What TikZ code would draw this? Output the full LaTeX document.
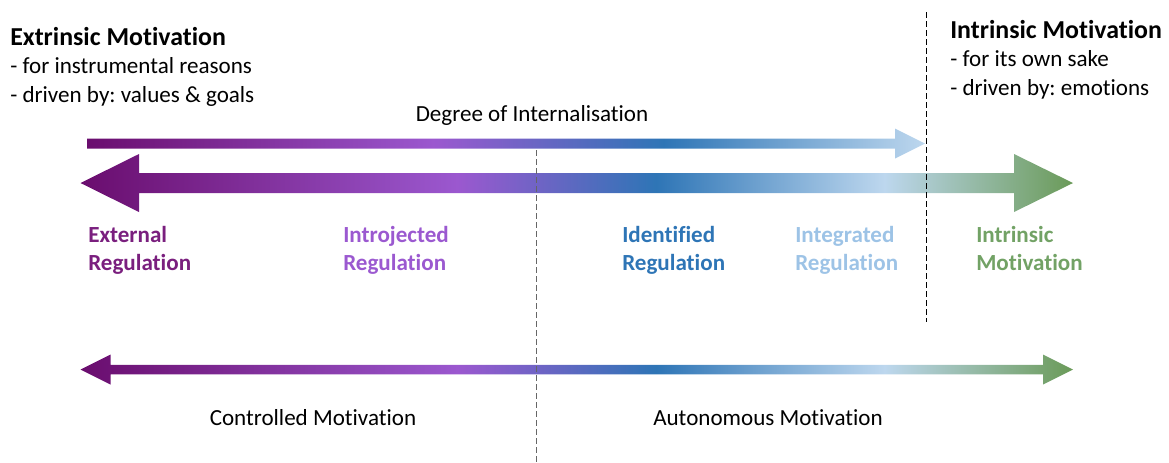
\documentclass[tikz,border=0pt]{standalone}
\usepackage{fontspec}
\setmainfont{Carlito}[Ligatures=NoCommon]
\usetikzlibrary{positioning}

\definecolor{darkpurple}{HTML}{6A0D6E}
\definecolor{midpurple}{HTML}{9B58CF}
\definecolor{midblue}{HTML}{2E75B6}
\definecolor{lightblue}{HTML}{BDD7EE}
\definecolor{darkgreen}{HTML}{6A9A58}
\definecolor{extcol}{HTML}{7A1F7E}
\definecolor{introcol}{HTML}{9B59D0}
\definecolor{identcol}{HTML}{2E75B6}
\definecolor{integcol}{HTML}{9DC3E6}
\definecolor{intrcol}{HTML}{72A265}

\pgfdeclarehorizontalshading{topshade}{100bp}{color(0bp)=(darkpurple); color(25bp)=(darkpurple);
	color(45.7bp)=(midpurple); color(59.4bp)=(midblue); color(75bp)=(lightblue); color(100bp)=(lightblue)}
\pgfdeclarehorizontalshading{bigshade}{100bp}{color(0bp)=(darkpurple); color(25bp)=(darkpurple);
	color(44bp)=(midpurple); color(54bp)=(midblue); color(65.5bp)=(lightblue); color(75bp)=(darkgreen); color(100bp)=(darkgreen)}

\begin{document}
\frenchspacing
\fontsize{17.3}{21}\selectfont
\begin{tikzpicture}[x=0.75pt,y=-0.75pt,
	txt line/.style={inner sep=0pt,text height=12.5pt,text depth=3.5pt,anchor=base west},
	head text/.style={txt line,font=\fontsize{19.4}{23}\selectfont\bfseries},
	reg label/.style={txt line,font=\bfseries},
	divider/.style={line width=0.75pt,dash pattern=on 4.5pt off 2.25pt}]
	
	\useasboundingbox (0,0) rectangle (1169,462);
	
	% arrows
	\shade[shading=topshade] (87,138.5) -- (895,138.5) -- (895,128.5) -- (925,143.5)
	-- (895,158.5) -- (895,148.5) -- (87,148.5) -- cycle;
	\shade[shading=bigshade] (80.5,183) -- (139,154) -- (139,173) -- (1014,173) -- (1014,154)
	-- (1073,183) -- (1014,212) -- (1014,193) -- (139,193) -- (139,212) -- cycle;
	\shade[shading=bigshade] (80.5,369.5) -- (110.5,354.5) -- (110.5,364.75) -- (1043,364.75)
	-- (1043,354.5) -- (1073,369.5) -- (1043,384.5) -- (1043,374.25) -- (110.5,374.25)
	-- (110.5,384.5) -- cycle;
	
	% dividers
	\coordinate (ctrl top) at (536,150);
	\coordinate (ctrl bot) at (536,462);
	\coordinate (intr top) at (926,12);
	\coordinate (intr bot) at (926,322);
	\draw[divider,black!60] (ctrl top) -- (ctrl bot);
	\draw[divider,black] (intr top) -- (intr bot);
	
	% headers
	\node[head text] (ext1) at (10,45) {Extrinsic Motivation};
	\node[txt line,below=5pt of ext1.south west,anchor=north west] (ext2) {- for instrumental reasons};
	\node[txt line,below=5pt of ext2.south west,anchor=north west] (ext3) {- driven by: values \& goals};
	
	\node[head text] (int1) at (950,38) {Intrinsic Motivation};
	\node[txt line,below=5pt of int1.south west,anchor=north west] (int2) {- for its own sake};
	\node[txt line,below=5pt of int2.south west,anchor=north west] (int3) {- driven by: emotions};
	
	\node[txt line,anchor=base] (degree) at (532,121) {Degree of Internalisation};
	
	% regulation types
	\node[reg label,text=extcol] (extreg1) at (88,242) {External};
	\node[reg label,text=extcol,below=5pt of extreg1.south west,anchor=north west] (extreg2) {Regulation};
	\node[reg label,text=introcol] (introreg1) at (343,242) {Introjected};
	\node[reg label,text=introcol,below=5pt of introreg1.south west,anchor=north west] (introreg2) {Regulation};
	\node[reg label,text=identcol] (identreg1) at (622,242) {Identified};
	\node[reg label,text=identcol,below=5pt of identreg1.south west,anchor=north west] (identreg2) {Regulation};
	\node[reg label,text=integcol] (integreg1) at (795,242) {Integrated};
	\node[reg label,text=integcol,below=5pt of integreg1.south west,anchor=north west] (integreg2) {Regulation};
	\node[reg label,text=intrcol] (intrmot1) at (976,242) {Intrinsic};
	\node[reg label,text=intrcol,below=5pt of intrmot1.south west,anchor=north west] (intrmot2) {Motivation};
	
	% bottom
	\node[txt line,anchor=base] (controlled) at (313,425) {Controlled Motivation};
	\node[txt line,anchor=base] (autonomous) at (768,425) {Autonomous Motivation};
\end{tikzpicture}
\end{document}
